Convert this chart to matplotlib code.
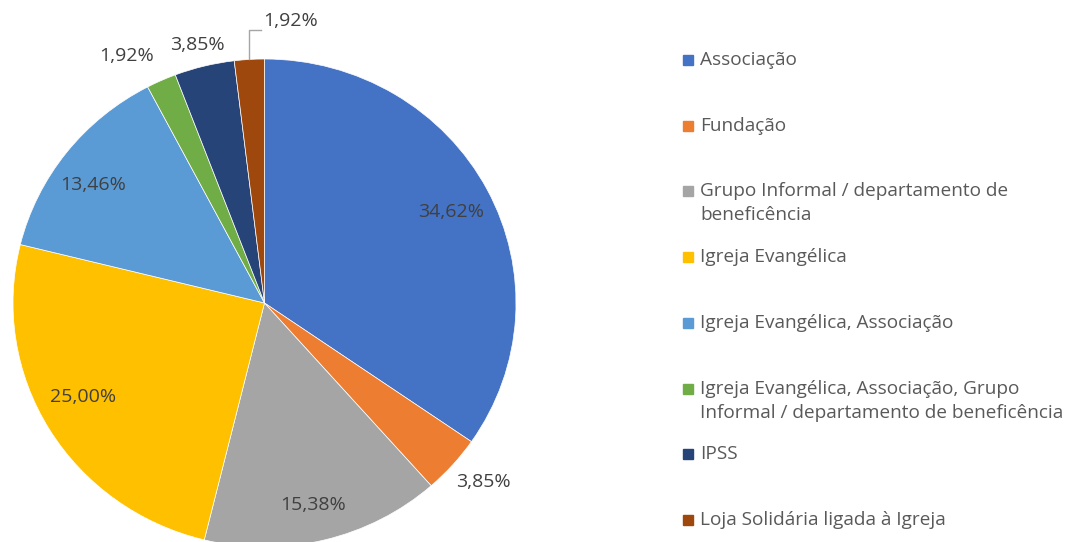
import matplotlib
matplotlib.use('Agg')
import matplotlib.pyplot as plt
from matplotlib.patches import Rectangle
import numpy as np

categories = ['Associação', 'Fundação', 'Grupo Informal / departamento de\nbeneficência',
              'Igreja Evangélica', 'Igreja Evangélica, Associação',
              'Igreja Evangélica, Associação, Grupo\nInformal / departamento de beneficência',
              'IPSS', 'Loja Solidária ligada à Igreja']
values = [34.62, 3.85, 15.38, 25.00, 13.46, 1.92, 3.85, 1.92]
labels = ['34,62%', '3,85%', '15,38%', '25,00%', '13,46%', '1,92%', '3,85%', '1,92%']
colors = ['#4472C4', '#ED7D31', '#A5A5A5', '#FFC000', '#5B9BD5', '#70AD47', '#264478', '#9E480E']

# label placement (radius, angle nudge in degrees)
lab_r = [0.83, 1.14, 0.85, 0.82, 0.835, 1.15, 1.09, None]
lab_da = [-0.9, 1.4, -0.7, -3.0, 2.6, 4.2, 0.4, 0]

plt.rcParams['font.family'] = ['Open Sans', 'DejaVu Sans']

W, H = 1070, 542
fig = plt.figure(figsize=(W / 100, H / 100), dpi=100)
ax = fig.add_axes([0, 0, 1, 1])

cx, cy, rx, ry = 264.5, 303, 251.5, 244

wedges, _ = ax.pie(values, colors=colors, startangle=90, counterclock=False,
                   wedgeprops=dict(edgecolor='white', linewidth=0.5))
ax.set_aspect('auto')
ax.set_xlim(-cx / rx, (W - cx) / rx)
ax.set_ylim(-(H - cy) / ry, cy / ry)
ax.axis('off')

fs_lab = 14
fs_leg = 13.7
for i, w in enumerate(wedges):
    mid = np.deg2rad((w.theta1 + w.theta2) / 2 + lab_da[i])
    if lab_r[i] is None:
        # leader line for the last small slice
        x0, y0 = 1.0 * np.cos(mid), 1.0 * np.sin(mid)
        ytop = (cy - 30) / ry
        x1 = x0 + 12 / rx
        ax.plot([x0, x0, x1], [y0, ytop, ytop], color='#A5A5A5', lw=1, clip_on=False)
        ax.text(x1 + 2 / rx, ytop + 9 / ry, labels[i], fontsize=fs_lab, color='#404040',
                ha='left', va='center')
        continue
    ax.text(lab_r[i] * np.cos(mid), lab_r[i] * np.sin(mid), labels[i], fontsize=fs_lab,
            color='#404040', ha='center', va='center')

# legend drawn by hand, Excel style slots
slot0, step, line_h = 60, 65.7, 24
for i, (name, c) in enumerate(zip(categories, colors)):
    yy = slot0 + i * step
    fig.patches.append(Rectangle((683 / W, 1 - (yy + 5) / H), 10 / W, 10 / H,
                                 transform=fig.transFigure, color=c))
    for j, line in enumerate(name.split('\n')):
        fig.text(700 / W, 1 - (yy + j * line_h) / H, line, fontsize=fs_leg, color='#595959',
                 ha='left', va='center')

fig.savefig('out.png', dpi=100)
